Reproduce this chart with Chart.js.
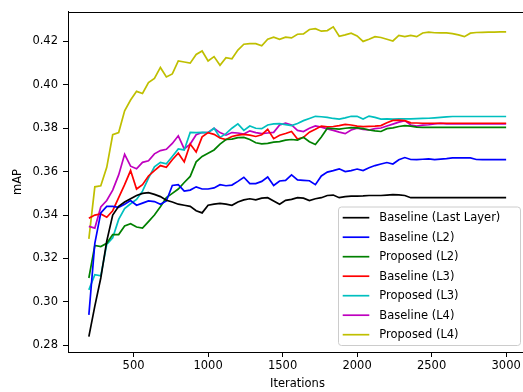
<!DOCTYPE html>
<html>
<head>
<meta charset="utf-8">
<script src="https://cdn.jsdelivr.net/npm/chart.js@4.4.1/dist/chart.umd.min.js"></script>
<style>
    html, body { margin: 0; padding: 0; background: #fff; overflow: hidden; }
    #wrap { width: 530px; height: 392px; position: relative; }
</style>
</head>
<body>
<div id="wrap"><canvas id="myChart"></canvas></div>
<script>
// iterations, one point every 40 from 200 to 3000
const iterations = [200, 240, 280, 320, 360, 400, 440, 480, 520, 560, 600, 640, 680, 720, 760, 800, 840, 880, 920, 960,
    1000, 1040, 1080, 1120, 1160, 1200, 1240, 1280, 1320, 1360, 1400, 1440, 1480, 1520, 1560, 1600, 1640, 1680, 1720, 1760,
    1800, 1840, 1880, 1920, 1960, 2000, 2040, 2080, 2120, 2160, 2200, 2240, 2280, 2320, 2360, 2400, 2440, 2480, 2520, 2560,
    2600, 2640, 2680, 2720, 2760, 2800, 2840, 2880, 2920, 2960, 3000];

const baselineLast = [0.284, 0.298, 0.311, 0.328, 0.340, 0.344, 0.346, 0.3475, 0.349, 0.350,
    0.3503, 0.3495, 0.3485, 0.3468, 0.346, 0.345, 0.3445, 0.344, 0.342, 0.341,
    0.3445, 0.345, 0.3454, 0.345, 0.3445, 0.346, 0.347, 0.3475, 0.347, 0.3478,
    0.348, 0.3465, 0.345, 0.3468, 0.3472, 0.348, 0.3478, 0.3467, 0.3475, 0.348,
    0.349, 0.3492, 0.348, 0.3485, 0.3487, 0.3487, 0.3488, 0.349, 0.349, 0.349,
    0.3492, 0.3494, 0.3493, 0.349, 0.348, 0.348, 0.348, 0.348, 0.348, 0.348,
    0.348, 0.348, 0.348, 0.348, 0.348, 0.348, 0.348, 0.348, 0.348, 0.348, 0.348];

const baselineL2 = [0.294, 0.327, 0.341, 0.344, 0.344, 0.3435, 0.345, 0.3467, 0.3445, 0.3455,
    0.3465, 0.3462, 0.345, 0.3465, 0.3536, 0.354, 0.351, 0.3515, 0.353, 0.352,
    0.352, 0.3525, 0.354, 0.3535, 0.3538, 0.3555, 0.3574, 0.3545, 0.3545, 0.3555,
    0.3575, 0.3536, 0.3557, 0.356, 0.3585, 0.3562, 0.356, 0.3558, 0.354, 0.358,
    0.3598, 0.3605, 0.3613, 0.360, 0.3605, 0.3612, 0.3605, 0.3618, 0.3628, 0.3635,
    0.3642, 0.3635, 0.3655, 0.3665, 0.3656, 0.3655, 0.3657, 0.3659, 0.3655, 0.3658,
    0.366, 0.3663, 0.3663, 0.3663, 0.3663, 0.3656, 0.3655, 0.3655, 0.3655, 0.3655, 0.3655];

const proposedL2 = [0.311, 0.326, 0.3255, 0.327, 0.331, 0.331, 0.335, 0.336, 0.3345, 0.334,
    0.337, 0.340, 0.3438, 0.348, 0.350, 0.352, 0.355, 0.3578, 0.3645, 0.367,
    0.3685, 0.370, 0.3727, 0.3748, 0.375, 0.3757, 0.3758, 0.3748, 0.3733, 0.3728,
    0.373, 0.3736, 0.3738, 0.3745, 0.3748, 0.3745, 0.3758, 0.3738, 0.3725, 0.376,
    0.380, 0.3798, 0.3796, 0.380, 0.3803, 0.3802, 0.3798, 0.3792, 0.3788, 0.3785,
    0.3798, 0.3802, 0.3808, 0.3812, 0.381, 0.3805, 0.3804, 0.3804, 0.3804, 0.3804,
    0.3804, 0.3804, 0.3804, 0.3804, 0.3804, 0.3804, 0.3804, 0.3804, 0.3804, 0.3804, 0.3804];

const baselineL3 = [0.3385, 0.340, 0.3405, 0.339, 0.342, 0.348, 0.354, 0.3605, 0.352, 0.354,
    0.358, 0.3605, 0.3628, 0.362, 0.3655, 0.3685, 0.3645, 0.3727, 0.369, 0.376,
    0.378, 0.3772, 0.3755, 0.3748, 0.3762, 0.3768, 0.3772, 0.3768, 0.3762, 0.377,
    0.3795, 0.3752, 0.3768, 0.3776, 0.3785, 0.375, 0.3758, 0.3782, 0.3795, 0.381,
    0.3806, 0.3808, 0.3812, 0.3818, 0.3815, 0.381, 0.3807, 0.3809, 0.381, 0.3812,
    0.3825, 0.3836, 0.3837, 0.3835, 0.3825, 0.3824, 0.3823, 0.3823, 0.3823, 0.3823,
    0.3823, 0.3823, 0.3823, 0.3823, 0.3823, 0.3823, 0.3823, 0.3823, 0.3823, 0.3823, 0.3823];

const proposedL3 = [0.3055, 0.3125, 0.312, 0.3265, 0.3295, 0.338, 0.343, 0.3452, 0.3472, 0.351,
    0.357, 0.3622, 0.3643, 0.3636, 0.367, 0.3705, 0.370, 0.3781, 0.378, 0.3781,
    0.378, 0.380, 0.3758, 0.3775, 0.380, 0.382, 0.379, 0.381, 0.380, 0.3798,
    0.3815, 0.382, 0.3821, 0.3817, 0.3812, 0.3822, 0.3835, 0.3845, 0.3855, 0.3853,
    0.385, 0.3845, 0.3842, 0.3848, 0.3855, 0.3855, 0.3842, 0.3856, 0.385, 0.3842,
    0.3843, 0.3842, 0.3843, 0.3843, 0.3843, 0.3844, 0.3845, 0.3846, 0.3848, 0.385,
    0.3852, 0.3854, 0.3854, 0.3854, 0.3854, 0.3854, 0.3854, 0.3854, 0.3854, 0.3854, 0.3854];

const baselineL4 = [0.3348, 0.334, 0.3437, 0.3467, 0.3515, 0.3585, 0.368, 0.3625, 0.3613, 0.3643,
    0.365, 0.3682, 0.3697, 0.3703, 0.373, 0.3765, 0.3705, 0.3727, 0.377, 0.378,
    0.3781, 0.380, 0.378, 0.3768, 0.378, 0.3778, 0.3773, 0.3788, 0.378, 0.3775,
    0.3778, 0.3781, 0.3815, 0.3823, 0.3815, 0.379, 0.3785, 0.380, 0.3811, 0.3805,
    0.3797, 0.379, 0.3782, 0.3775, 0.3792, 0.380, 0.3795, 0.3792, 0.3798, 0.3801,
    0.381, 0.3819, 0.3828, 0.3835, 0.3815, 0.381, 0.3814, 0.3816, 0.382, 0.3822,
    0.382, 0.382, 0.382, 0.382, 0.382, 0.382, 0.382, 0.382, 0.382, 0.382, 0.382];

const proposedL4 = [0.329, 0.353, 0.3535, 0.362, 0.377, 0.378, 0.388, 0.393, 0.397, 0.396,
    0.401, 0.403, 0.408, 0.4036, 0.405, 0.411, 0.4105, 0.410, 0.414, 0.4156,
    0.411, 0.413, 0.409, 0.4125, 0.412, 0.416, 0.4187, 0.419, 0.419, 0.418,
    0.421, 0.422, 0.421, 0.422, 0.4216, 0.4233, 0.4235, 0.4255, 0.4259, 0.4247,
    0.425, 0.4267, 0.4224, 0.423, 0.4238, 0.4225, 0.420, 0.421, 0.4222, 0.4218,
    0.421, 0.4202, 0.4228, 0.4222, 0.4228, 0.4222, 0.4239, 0.4243, 0.424, 0.4239,
    0.4239, 0.4236, 0.423, 0.4222, 0.4238, 0.4241, 0.4242, 0.4243, 0.4243, 0.4244, 0.4244];

const seriesNames = ['Baseline (Last Layer)', 'Baseline (L2)', 'Proposed (L2)', 'Baseline (L3)',
    'Proposed (L3)', 'Baseline (L4)', 'Proposed (L4)'];
const seriesValues = [baselineLast, baselineL2, proposedL2, baselineL3, proposedL3, baselineL4, proposedL4];
const seriesColors = ['#000000', '#0000ff', '#008000', '#ff0000', '#00bfbf', '#bf00bf', '#bfbf00'];

const xTicks = [500, 1000, 1500, 2000, 2500, 3000];
const yTicks = [0.28, 0.30, 0.32, 0.34, 0.36, 0.38, 0.40, 0.42];

const font = {family: 'DejaVu Sans', size: 11.5};

// top spine, right one falls outside the window anyway
const framePlugin = {
    id: 'frame',
    afterDatasetsDraw(chart) {
        const ctx = chart.ctx, a = chart.chartArea;
        ctx.save();
        ctx.strokeStyle = '#000';
        ctx.lineWidth = 1;
        ctx.beginPath();
        ctx.moveTo(a.left, Math.round(a.top) + 0.5);
        ctx.lineTo(a.right, Math.round(a.top) + 0.5);
        ctx.moveTo(Math.round(a.right) - 0.5, a.top);
        ctx.lineTo(Math.round(a.right) - 0.5, a.bottom);
        ctx.stroke();
        ctx.restore();
    }
};

// matplotlib like legend box in the lower right corner
const boxLegend = {
    id: 'boxLegend',
    afterDraw(chart) {
        const ctx = chart.ctx, a = chart.chartArea;
        const w = 182, h = 138.5, rowH = 19.5;
        const x0 = a.right - 7 - w, y0 = a.bottom - 7 - h;
        ctx.save();
        ctx.beginPath();
        ctx.roundRect(x0 + 0.5, y0 + 0.5, w, h, 3);
        ctx.fillStyle = 'rgba(255,255,255,0.8)';
        ctx.fill();
        ctx.strokeStyle = '#cccccc';
        ctx.lineWidth = 1;
        ctx.stroke();
        ctx.font = font.size + 'px ' + font.family;
        ctx.textBaseline = 'middle';
        ctx.fillStyle = '#000';
        chart.data.datasets.forEach((ds, i) => {
            const y = y0 + 11.2 + i * rowH;
            ctx.beginPath();
            ctx.strokeStyle = ds.borderColor;
            ctx.lineWidth = 1.7;
            ctx.moveTo(x0 + 4.7, y);
            ctx.lineTo(x0 + 31.3, y);
            ctx.stroke();
            ctx.fillText(ds.label, x0 + 41.3, y + 0.5);
        });
        ctx.restore();
    }
};

const ctx = document.getElementById('myChart').getContext('2d');
const chart = new Chart(ctx, {
    type: 'line',
    data: {
        datasets: seriesNames.map((name, i) => ({
            label: name,
            data: iterations.map((it, j) => ({x: it, y: seriesValues[i][j]})),
            borderColor: seriesColors[i],
            backgroundColor: seriesColors[i],
            borderWidth: 1.7,
            pointRadius: 0,
            tension: 0,
            fill: false
        }))
    },
    options: {
        responsive: true,
        maintainAspectRatio: false,
        animation: false,
        devicePixelRatio: 1,
        layout: {padding: {top: 10, right: 3, left: 0, bottom: 0}},
        plugins: {
            legend: {display: false},
            tooltip: {enabled: false}
        },
        scales: {
            x: {
                type: 'linear',
                min: 60,
                max: 3140,
                afterBuildTicks: (s) => { s.ticks = xTicks.map(v => ({value: v})); },
                afterFit: (s) => { s.height = 40; },
                grid: {drawOnChartArea: false, color: '#000', tickLength: 5, tickWidth: 1},
                border: {color: '#000', width: 1},
                ticks: {font: font, color: '#000', padding: 2, maxRotation: 0,
                    callback: (v) => String(v)},
                title: {display: true, text: 'Iterations', font: font, color: '#000',
                    padding: {top: 0, bottom: 1}}
            },
            y: {
                min: 0.2769,
                max: 0.4336,
                afterBuildTicks: (s) => { s.ticks = yTicks.map(v => ({value: v})); },
                afterFit: (s) => { s.width = 68; },
                grid: {drawOnChartArea: false, color: '#000', tickLength: 5, tickWidth: 1},
                border: {color: '#000', width: 1},
                ticks: {font: font, color: '#000', padding: 5,
                    callback: (v) => v.toFixed(2)},
                title: {display: true, text: 'mAP', font: font, color: '#000',
                    padding: {top: 11, bottom: 0}}
            }
        }
    },
    plugins: [framePlugin, boxLegend]
});
</script>
</body>
</html>
